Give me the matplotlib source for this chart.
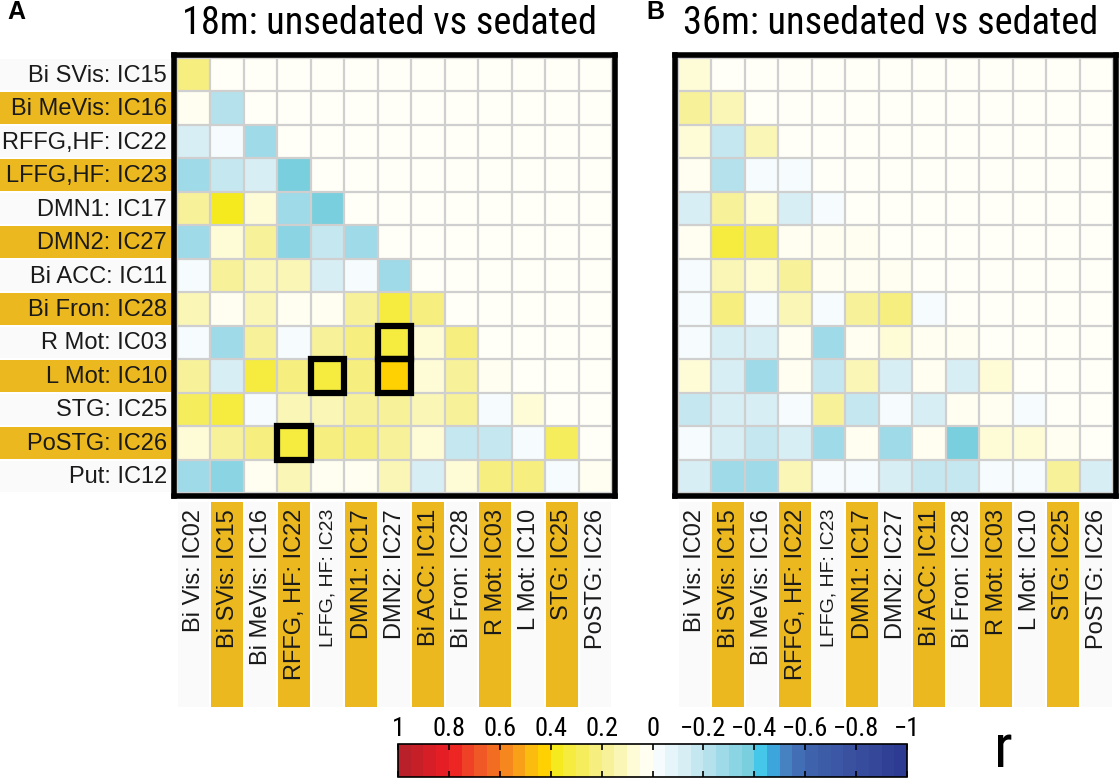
import numpy as np
import matplotlib
matplotlib.use("Agg")
import matplotlib.pyplot as plt
from matplotlib import font_manager
from matplotlib.font_manager import FontProperties
from matplotlib.colors import LinearSegmentedColormap, ListedColormap, Normalize
from matplotlib.patches import Rectangle
import matplotlib.transforms as mtransforms

# ---- data -------------------------------------------------------------
row_labels = ["Bi SVis: IC15", "Bi MeVis: IC16", "RFFG,HF: IC22", "LFFG,HF: IC23",
              "DMN1: IC17", "DMN2: IC27", "Bi ACC: IC11", "Bi Fron: IC28",
              "R Mot: IC03", "L Mot: IC10", "STG: IC25", "PoSTG: IC26", "Put: IC12"]
col_labels = ["Bi Vis: IC02", "Bi SVis: IC15", "Bi MeVis: IC16", "RFFG, HF: IC22",
              "LFFG, HF: IC23", "DMN1: IC17", "DMN2: IC27", "Bi ACC: IC11",
              "Bi Fron: IC28", "R Mot: IC03", "L Mot: IC10", "STG: IC25", "PoSTG: IC26"]

# lower triangle (row i has i+1 values), correlation r
corr_18m = [
    [0.22],
    [0.02, -0.25],
    [-0.12, -0.03, -0.30],
    [-0.27, -0.20, -0.13, -0.38],
    [0.18, 0.38, 0.07, -0.27, -0.36],
    [-0.27, 0.07, 0.17, -0.35, -0.20, -0.30],
    [-0.03, 0.15, 0.10, 0.10, -0.12, -0.03, -0.30],
    [0.12, 0.01, 0.13, 0.01, 0.02, 0.17, 0.30, 0.20],
    [-0.03, -0.27, 0.17, -0.03, 0.17, 0.20, 0.34, 0.07, 0.20],
    [0.17, -0.12, 0.32, 0.20, 0.34, 0.20, 0.44, 0.07, 0.15, 0.01],
    [0.27, 0.32, -0.03, 0.12, 0.14, 0.15, 0.15, 0.14, 0.15, -0.03, 0.07],
    [0.06, 0.17, 0.20, 0.34, 0.20, 0.20, 0.18, 0.07, -0.20, -0.20, -0.03, 0.28],
    [-0.26, -0.34, 0.01, 0.12, 0.01, 0.01, 0.14, -0.12, 0.07, 0.24, 0.20, -0.03, 0.01],
]
corr_36m = [
    [0.08],
    [0.18, 0.14],
    [0.07, -0.20, 0.14],
    [0.01, -0.22, -0.03, -0.03],
    [-0.12, 0.17, 0.07, -0.12, -0.03],
    [0.01, 0.30, 0.28, 0.01, 0.01, 0.01],
    [-0.03, 0.12, 0.07, 0.17, 0.01, 0.01, 0.01],
    [-0.03, 0.20, -0.03, 0.12, -0.03, 0.18, 0.20, -0.03],
    [-0.02, -0.12, -0.12, 0.01, -0.27, 0.01, 0.07, 0.01, 0.01],
    [0.07, -0.12, -0.27, 0.01, -0.20, 0.14, -0.12, 0.01, -0.12, 0.07],
    [-0.20, -0.13, -0.12, -0.03, 0.15, -0.20, -0.02, -0.12, 0.01, 0.01, -0.02],
    [-0.02, -0.13, -0.20, -0.12, -0.30, 0.01, -0.30, 0.01, -0.37, 0.07, 0.07, 0.01],
    [-0.12, -0.27, -0.27, 0.12, -0.03, -0.03, -0.12, -0.20, -0.20, -0.03, -0.03, 0.18, -0.12],
]
highlight_18m = [(8, 6), (9, 6), (9, 4), (11, 3)]
cbar_ticks = [1, 0.8, 0.6, 0.4, 0.2, 0, -0.2, -0.4, -0.6, -0.8, -1]

# ---- fonts / colours ---------------------------------------------------
def narrow_font():
    fonts = font_manager.fontManager.ttflist
    for f in fonts:
        if f.name == "Liberation Sans Narrow" and f.weight in (400, "normal") \
                and f.style == "normal":
            return f.fname
    for key in ("RobotoCondensed-Regular", "NotoSans-Condensed.", "OpenSans_Condensed-Regular",
                "DejaVuSansCondensed."):
        for f in fonts:
            if key.lower() in f.fname.lower().replace(" ", ""):
                return f.fname
    return None

nf = narrow_font()
NARROW = FontProperties(fname=nf) if nf else FontProperties(family="DejaVu Sans")
plt.rcParams["font.family"] = ["Liberation Sans", "DejaVu Sans"]

gold = "#EBB81F"
pale = "#FAFAFA"

anchors = [(-1.0, "#2B3990"), (-0.8, "#3A4F9F"), (-0.6, "#3E64AE"), (-0.5, "#4A8FCB"),
           (-0.44, "#29C5F3"), (-0.41, "#6ACADB"), (-0.2, "#BDE4EE"), (-0.05, "#EEF8FB"),
           (0.0, "#FFFFFF"), (0.05, "#FFFDE6"), (0.2, "#F6EF8C"), (0.38, "#F5EA1E"),
           (0.42, "#FFD400"), (0.5, "#FBB016"), (0.6, "#F47B20"), (0.7, "#EF4E26"),
           (0.8, "#ED1C24"), (1.0, "#B2202A")]
smooth = LinearSegmentedColormap.from_list(
    "rcorr", [((v + 1) / 2, c) for v, c in anchors])
cmap = ListedColormap(smooth((np.arange(40) + 0.5) / 40))
norm = Normalize(-1, 1)

W, H = 1120, 778
fig = plt.figure(figsize=(W / 100, H / 100), dpi=100)
renderer = fig.canvas.get_renderer()

def frac(x0, y0, x1, y1):
    return [x0 / W, 1 - y1 / H, (x1 - x0) / W, (y1 - y0) / H]

def fit_width(t, target):
    # shrink/grow a text so its drawn width matches the reference width
    w = t.get_window_extent(renderer).width
    t.set_fontsize(t.get_fontsize() * target / w)

pad = 2.7 / 33.5
n = len(row_labels)

def draw_panel(x0, data, title, letter, highlights, label_left):
    ax = fig.add_axes(frac(x0 - 2.7, 58 - 2.7, x0 + 435 + 2.7, 493 + 2.7))
    M = np.full((n, n), np.nan)
    for i, row in enumerate(data):
        M[i, :len(row)] = row
    ax.set_facecolor("#FFFFF7")
    ax.pcolormesh(np.arange(n + 1) - 0.5, np.arange(n + 1) - 0.5, np.ma.masked_invalid(M),
                  cmap=cmap, norm=norm, edgecolors="none")
    for k in range(n + 1):
        ax.axhline(k - 0.5, color="#CFCFCF", lw=1.6, zorder=2)
        ax.axvline(k - 0.5, color="#CFCFCF", lw=1.6, zorder=2)
    for (r, c) in highlights:
        ax.add_patch(Rectangle((c - 0.5, r - 0.5), 1, 1, fill=False, ec="black",
                               lw=4.5, zorder=4))
    ax.set_xlim(-0.5 - pad, n - 0.5 + pad)
    ax.set_ylim(n - 0.5 + pad, -0.5 - pad)
    ax.set_xticks([])
    ax.set_yticks([])
    for s in ax.spines.values():
        s.set_linewidth(4.0)
        s.set_zorder(5)

    # column labels with banded background
    tx = mtransforms.blended_transform_factory(ax.transData, fig.transFigure)
    for j, lab in enumerate(col_labels):
        ax.add_patch(Rectangle((j - 0.47, 1 - 707 / H), 0.94, (707 - 502) / H,
                               transform=tx, clip_on=False,
                               fc=gold if j % 2 == 1 else pale, ec="none", zorder=0))
        fs = 14 if j == 4 else 17
        ax.text(j + 0.02, 1 - 509 / H, lab, transform=tx, rotation=90, ha="center",
                va="top", fontsize=fs, color="#1a1a1a")

    if label_left:
        ty = mtransforms.blended_transform_factory(fig.transFigure, ax.transData)
        for i, lab in enumerate(row_labels):
            ax.add_patch(Rectangle((0, i - 0.47), 172 / W, 0.94, transform=ty,
                                   clip_on=False, fc=gold if i % 2 == 1 else pale,
                                   ec="none", zorder=0))
            ax.text(167 / W, i + 0.03, lab, transform=ty, ha="right", va="center",
                    fontsize=17, color="#1a1a1a")

    t = fig.text((x0 + 213) / W, 1 - 24 / H, title, ha="center", va="center",
                 fontsize=28, fontproperties=NARROW)
    t.set_fontsize(28)
    fit_width(t, 414)
    lx = 16 if label_left else x0 - 23
    fig.text(lx / W, 1 - 12 / H, letter, ha="center", va="center",
             fontsize=18, fontweight="bold", family="Liberation Sans")
    return ax

draw_panel(177, corr_18m, "18m: unsedated vs sedated", "A", highlight_18m, True)
draw_panel(678, corr_36m, "36m: unsedated vs sedated", "B", [], False)

# ---- colour bar ---------------------------------------------------------
cax = fig.add_axes(frac(398, 744, 907, 777))
sm = plt.cm.ScalarMappable(cmap=cmap, norm=norm)
cb = fig.colorbar(sm, cax=cax, orientation="horizontal")
cax.invert_xaxis()
cb.set_ticks(cbar_ticks)
cb.set_ticklabels([("%g" % t).replace("-", "\u2212") for t in cbar_ticks])
cax.xaxis.set_ticks_position("both")
cax.tick_params(axis="x", direction="in", length=4, width=1.2, color="black",
                labeltop=True, labelbottom=False, pad=2)
for lab in cax.get_xticklabels():
    lab.set_fontproperties(NARROW)
    lab.set_fontsize(19)
cb.outline.set_linewidth(1.2)
r = fig.text(1003 / W, 1 - 750 / H, "r", ha="center", va="center", fontproperties=NARROW)
r.set_fontsize(44)

fig.savefig("out.png", dpi=100)
